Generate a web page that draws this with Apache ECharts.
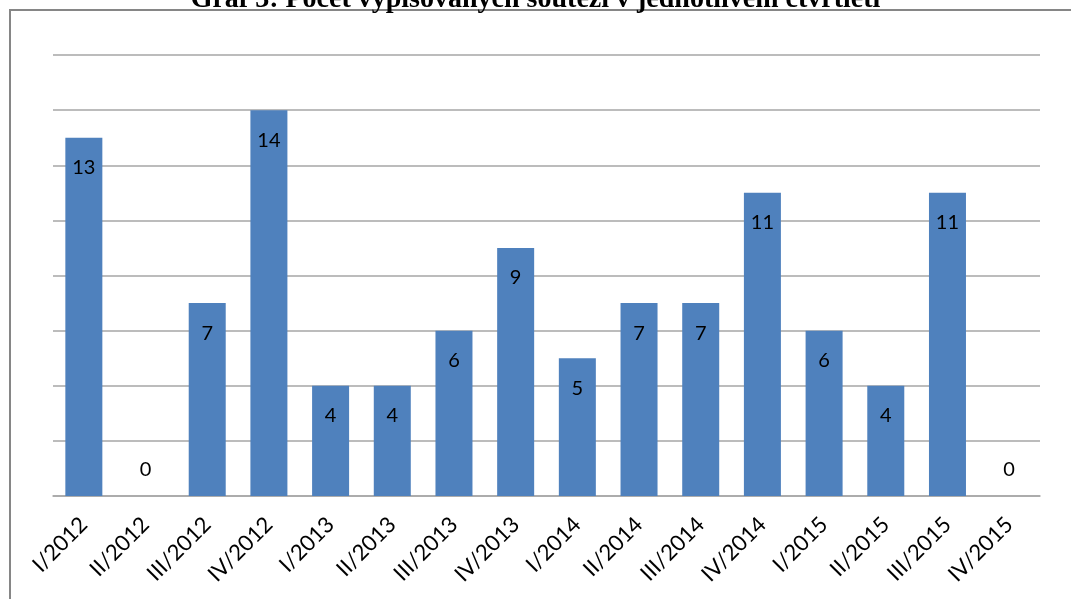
<!DOCTYPE html>
<html>
<head>
<meta charset="utf-8">
<script src="https://cdn.jsdelivr.net/npm/echarts@6/dist/echarts.min.js"></script>
<style>
    html, body { margin: 0; padding: 0; background: #fff; }
    #chart { width: 1071px; height: 599px; }
</style>
</head>
<body>
<div id="chart"></div>
<script>
    // ctvrtleti a pocty soutezi
    var quarters = ['I/2012', 'II/2012', 'III/2012', 'IV/2012',
        'I/2013', 'II/2013', 'III/2013', 'IV/2013',
        'I/2014', 'II/2014', 'III/2014', 'IV/2014',
        'I/2015', 'II/2015', 'III/2015', 'IV/2015'];
    var counts = [13, 0, 7, 14, 4, 4, 6, 9, 5, 7, 7, 11, 6, 4, 11, 0];
    var yTicks = [0, 2, 4, 6, 8, 10, 12, 14, 16];

    var font = 'Lato, "Open Sans", sans-serif';

    // nulove hodnoty maji popisek nad osou
    var barData = counts.map(function (v) {
        if (v === 0) {
            return { value: v, label: { position: 'top', distance: 16 } };
        }
        return v;
    });

    var option = {
        animation: false,
        title: {
            text: 'Graf 3: Počet vypisovaných soutěží v jednotlivém čtvrtletí',
            left: 'center',
            top: -19,
            textStyle: {
                fontFamily: '"Liberation Serif", serif',
                fontWeight: 'bold',
                fontSize: 28,
                color: '#000'
            }
        },
        graphic: [{
            type: 'rect',
            shape: { x: 10, y: 10, width: 1080, height: 620 },
            style: { fill: 'none', stroke: '#868686', lineWidth: 2 },
            silent: true
        }],
        grid: { left: 53, right: 31, top: 55, bottom: 103 },
        xAxis: {
            type: 'category',
            data: quarters,
            axisLine: { lineStyle: { color: '#a6a6a6', width: 1.5 } },
            axisTick: { show: false },
            axisLabel: {
                rotate: 45,
                margin: 25,
                interval: 0,
                fontFamily: font,
                fontSize: 22,
                color: '#000'
            }
        },
        yAxis: {
            type: 'value',
            min: yTicks[0],
            max: yTicks[yTicks.length - 1],
            interval: 2,
            axisLine: { show: false },
            axisTick: { show: false },
            axisLabel: { show: false },
            splitLine: { lineStyle: { color: '#a6a6a6', width: 1.5 } }
        },
        series: [{
            type: 'bar',
            data: barData,
            barWidth: 37,
            itemStyle: { color: '#4f81bd' },
            label: {
                show: true,
                position: 'insideTop',
                distance: 20,
                fontFamily: font,
                fontSize: 20,
                color: '#000'
            }
        }]
    };

    echarts.init(document.getElementById('chart')).setOption(option);
</script>
</body>
</html>
